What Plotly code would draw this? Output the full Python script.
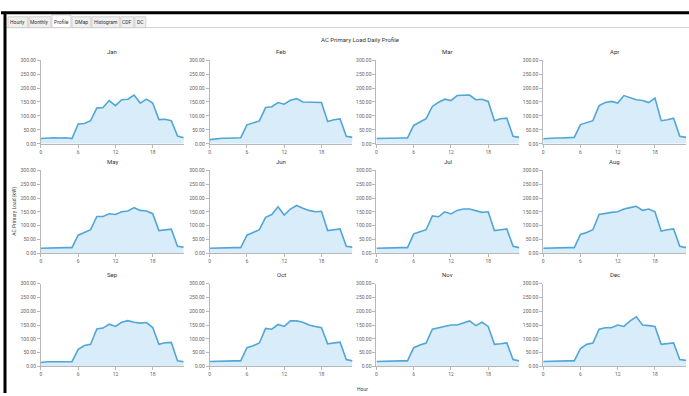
import plotly.graph_objects as go

hours = list(range(24))
months = ["Jan", "Feb", "Mar", "Apr", "May", "Jun", "Jul", "Aug", "Sep", "Oct", "Nov", "Dec"]

load_jan = [19, 21, 22, 21, 22, 19, 71, 73, 83, 128, 130, 155, 137, 158, 160, 175, 146, 160, 146, 87, 88, 83, 28, 22]
load_feb = [15, 18, 20, 20, 21, 22, 68, 74, 82, 130, 133, 148, 142, 156, 162, 150, 150, 149, 148, 80, 86, 89, 27, 23]
load_mar = [19, 20, 21, 21, 21, 21, 66, 78, 90, 134, 149, 160, 155, 173, 175, 175, 158, 160, 152, 83, 90, 92, 27, 23]
load_apr = [18, 20, 21, 21, 22, 23, 69, 75, 83, 137, 148, 152, 146, 173, 166, 158, 155, 148, 164, 83, 86, 92, 27, 23]
load_may = [18, 19, 20, 20, 20, 20, 65, 75, 85, 133, 133, 143, 140, 150, 153, 165, 155, 153, 143, 82, 85, 87, 25, 22]
load_jun = [18, 19, 20, 20, 20, 20, 65, 75, 85, 130, 140, 168, 138, 160, 173, 163, 155, 150, 152, 82, 85, 88, 25, 22]
load_jul = [18, 19, 20, 20, 20, 20, 70, 78, 85, 135, 132, 150, 142, 155, 160, 160, 155, 148, 150, 82, 85, 88, 25, 20]
load_aug = [18, 19, 20, 20, 20, 20, 68, 75, 85, 140, 145, 148, 150, 160, 165, 170, 155, 160, 150, 80, 85, 88, 25, 20]
load_sep = [14, 17, 17, 17, 18, 17, 62, 76, 80, 136, 139, 153, 145, 160, 166, 160, 157, 159, 141, 80, 86, 87, 20, 17]
load_oct = [18, 19, 20, 20, 20, 20, 68, 75, 85, 138, 135, 152, 145, 165, 165, 160, 150, 145, 140, 82, 85, 88, 25, 20]
load_nov = [18, 19, 20, 20, 20, 20, 68, 78, 85, 135, 140, 145, 150, 150, 158, 165, 148, 160, 145, 80, 82, 85, 25, 20]
load_dec = [18, 19, 20, 20, 20, 20, 65, 80, 85, 135, 140, 140, 150, 145, 165, 180, 150, 148, 145, 80, 82, 85, 25, 22]

loads = [load_jan, load_feb, load_mar, load_apr, load_may, load_jun,
         load_jul, load_aug, load_sep, load_oct, load_nov, load_dec]

y_ticks = [0, 50, 100, 150, 200, 250, 300]
x_ticks = [0, 6, 12, 18]
tabs = ["Hourly", "Monthly", "Profile", "DMap", "Histogram", "CDF", "DC"]

W, H = 689, 396
col_px = [(40, 183), (209, 352), (376, 519), (543, 686)]
row_px = [(58, 143), (170, 254), (285, 369)]

LINE = "#52a6d6"
FILL = "rgba(200,230,246,0.7)"
AXC = "#b8b8b8"
TXT = "#666666"

fig = go.Figure()
annotations = []
shapes = []

for i, (m, vals) in enumerate(zip(months, loads)):
    r, c = divmod(i, 4)
    x0, x1 = col_px[c]
    yt, yb = row_px[r]
    k = "" if i == 0 else str(i + 1)
    fig.add_trace(go.Scatter(
        x=hours, y=vals, mode="lines",
        line=dict(color=LINE, width=1.6),
        fill="tozeroy", fillcolor=FILL,
        xaxis="x" + k, yaxis="y" + k, showlegend=False,
        hoverinfo="skip"))
    fig.update_layout(**{
        "xaxis" + k: dict(
            domain=[x0 / W, x1 / W], anchor="y" + k, range=[0, 23],
            tickvals=x_ticks, ticktext=[str(t) for t in x_ticks],
            showgrid=False, zeroline=False, showline=True, linecolor=AXC, linewidth=1,
            ticks="outside", ticklen=3, tickcolor=AXC,
            tickfont=dict(size=5, color=TXT, family="Roboto")),
        "yaxis" + k: dict(
            domain=[1 - yb / H, 1 - yt / H], anchor="x" + k, range=[0, 300],
            tickvals=y_ticks, ticktext=[f"{t:.2f}" for t in y_ticks],
            showgrid=False, zeroline=False, showline=True, linecolor=AXC, linewidth=1,
            ticks="outside", ticklen=3, tickcolor=AXC,
            tickfont=dict(size=5, color=TXT, family="Roboto")),
    })
    annotations.append(dict(
        x=(x0 + x1) / 2 / W, y=1 - (yt - 9) / H, xref="paper", yref="paper",
        text=m, showarrow=False, font=dict(size=6, color="#333333", family="Roboto"),
        xanchor="center", yanchor="middle"))

annotations.append(dict(
    x=360 / W, y=1 - 37 / H, xref="paper", yref="paper",
    text="AC Primary Load Daily Profile", showarrow=False,
    font=dict(size=6, color="#333333", family="Roboto"), xanchor="center", yanchor="middle"))
annotations.append(dict(
    x=362 / W, y=1 - 392 / H, xref="paper", yref="paper",
    text="Hour", showarrow=False,
    font=dict(size=5, color="#444444", family="Roboto"), xanchor="center", yanchor="middle"))
annotations.append(dict(
    x=14 / W, y=1 - 211 / H, xref="paper", yref="paper",
    text="AC Primary Load (kW)", showarrow=False, textangle=-90,
    font=dict(size=5, color="#444444", family="Roboto"), xanchor="center", yanchor="middle"))

# tab strip
tab_px = [(7, 27), (28, 50), (51, 70), (71, 90), (91, 119), (120, 133), (134, 145)]
shapes.append(dict(type="line", xref="paper", yref="paper",
                   x0=5 / W, x1=1, y0=1 - 25 / H, y1=1 - 25 / H,
                   line=dict(color="#d0d0d0", width=1)))
for name, (a, b) in zip(tabs, tab_px):
    sel = name == "Profile"
    shapes.append(dict(type="rect", xref="paper", yref="paper",
                       x0=a / W, x1=b / W, y0=1 - 25 / H, y1=1 - (12 if sel else 14) / H,
                       line=dict(color="#c8c8c8", width=0.8),
                       fillcolor="#ffffff" if sel else "#f0f0f0"))
    annotations.append(dict(
        x=(a + b) / 2 / W, y=1 - 19.5 / H, xref="paper", yref="paper",
        text=name, showarrow=False, font=dict(size=5, color="#333333", family="Roboto"),
        xanchor="center", yanchor="middle"))

# black window border
shapes.append(dict(type="line", xref="paper", yref="paper",
                   x0=0, x1=1, y0=1 - 10 / H, y1=1 - 10 / H,
                   line=dict(color="#000000", width=3)))
shapes.append(dict(type="line", xref="paper", yref="paper",
                   x0=4 / W, x1=4 / W, y0=0, y1=1 - 9 / H,
                   line=dict(color="#000000", width=3)))

fig.update_layout(
    width=W, height=H, margin=dict(l=0, r=0, t=0, b=0),
    paper_bgcolor="#ffffff", plot_bgcolor="#ffffff",
    annotations=annotations, shapes=shapes, showlegend=False)

fig.write_html("out.html", config={"displayModeBar": False},
               post_script="document.body.style.margin='0px';document.body.style.padding='0px';document.body.style.overflow='hidden';")
